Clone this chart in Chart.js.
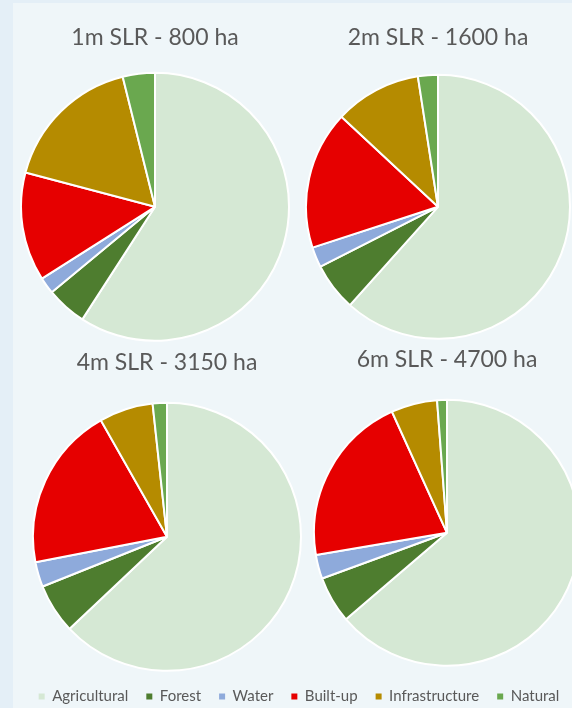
<!DOCTYPE html>
<html>
<head>
<meta charset="utf-8">
<script src="https://cdn.jsdelivr.net/npm/chart.js@4/dist/chart.umd.min.js"></script>
<style>
  html, body { margin: 0; padding: 0; }
  body { width: 572px; height: 708px; overflow: hidden; background: #e4eff7; position: relative; }
  #panel { position: absolute; left: 13px; top: 3px; right: 0; bottom: 0; background: #eff6f9; }
  .box { position: absolute; }
</style>
</head>
<body>
<div id="panel"></div>
<div class="box" id="b1"><canvas id="c1"></canvas></div>
<div class="box" id="b2"><canvas id="c2"></canvas></div>
<div class="box" id="b3"><canvas id="c3"></canvas></div>
<div class="box" id="b4"><canvas id="c4"></canvas></div>
<div class="box" id="bl"><canvas id="cl"></canvas></div>
<script>
// land use flooded (ha)
const landUse = ["Agricultural", "Forest", "Water", "Built-up", "Infrastructure", "Natural"];
const colors = ["#d5e8d4", "#4e7d2f", "#8eaadb", "#e60000", "#b58b00", "#6aa84f"];

const slr1m = [473, 39, 16, 105, 136, 31];
const slr2m = [986, 94, 40, 271, 170, 39];
const slr4m = [1983, 189, 95, 624, 205, 54];
const slr6m = [2995, 268, 136, 982, 263, 56];

const titles = ["1m SLR - 800 ha", "2m SLR - 1600 ha", "4m SLR - 3150 ha", "6m SLR - 4700 ha"];

const FONT = "Lato, 'Open Sans', sans-serif";
const TITLE_SIZE = 23;

// place a pie so its centre lands at (cx, cy) with radius r, title centred at titleY
function makePie(id, values, title, cx, cy, r, titleY) {
  const b = 2;
  const lineH = Math.round(TITLE_SIZE * 1.2);
  const top = titleY - lineH / 2;
  const box = document.getElementById("b" + id);
  box.style.left = (cx - r - b) + "px";
  box.style.width = (2 * (r + b)) + "px";
  box.style.top = top + "px";
  box.style.height = (cy + r + b - top) + "px";

  return new Chart(document.getElementById("c" + id), {
    type: "pie",
    data: {
      labels: landUse,
      datasets: [{
        data: values,
        backgroundColor: colors,
        borderColor: "#ffffff",
        borderWidth: 2,
      }],
    },
    options: {
      responsive: true,
      maintainAspectRatio: false,
      animation: false,
      layout: { padding: 0 },
      plugins: {
        legend: { display: false },
        tooltip: { enabled: false },
        title: {
          display: true,
          text: title,
          color: "#595959",
          font: { family: FONT, size: TITLE_SIZE, weight: "normal", lineHeight: 1.2 },
          padding: { top: 0, bottom: (cy - r - b) - top - lineH },
        },
      },
    },
  });
}

makePie(1, slr1m, titles[0], 155, 207, 133, 38);
makePie(2, slr2m, titles[1], 438, 207, 131, 38);
makePie(3, slr4m, titles[2], 167, 537, 133, 363);
makePie(4, slr6m, titles[3], 447, 533, 132, 360);

// shared legend along the bottom
const lb = document.getElementById("bl");
lb.style.left = "13px";
lb.style.width = "572px";
lb.style.top = "671px";
lb.style.height = "80px";
new Chart(document.getElementById("cl"), {
  type: "pie",
  data: {
    labels: landUse,
    datasets: [{ data: slr1m, backgroundColor: colors, borderWidth: 0 }],
  },
  options: {
    responsive: true,
    maintainAspectRatio: false,
    animation: false,
    events: [],
    layout: { padding: 0 },
    plugins: {
      tooltip: { enabled: false },
      legend: {
        position: "top",
        labels: {
          color: "#595959",
          font: { family: FONT, size: 15 },
          boxWidth: 6,
          boxHeight: 6,
          padding: 18,
        },
      },
    },
  },
  plugins: [{
    // legend only: hide the pie of this helper chart
    id: "legendOnly",
    beforeDatasetsDraw: () => false,
  }],
});
</script>
</body>
</html>
